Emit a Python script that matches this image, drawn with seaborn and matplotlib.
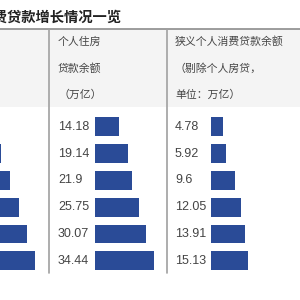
import matplotlib
matplotlib.use("Agg")
import matplotlib.pyplot as plt
import seaborn as sns
import pandas as pd
from matplotlib import transforms
from matplotlib.lines import Line2D
from matplotlib.patches import Rectangle

# ---- data ----
years = ["2015", "2016", "2017", "2018", "2019", "2020"]
consumer_total = [18.96, 25.06, 31.52, 37.79, 43.98, 49.57]   # left column (cropped)
housing = [14.18, 19.14, 21.9, 25.75, 30.07, 34.44]
narrow_consumer = [4.78, 5.92, 9.6, 12.05, 13.91, 15.13]
housing_labels = ["14.18", "19.14", "21.9", "25.75", "30.07", "34.44"]
narrow_labels = ["4.78", "5.92", "9.6", "12.05", "13.91", "15.13"]
title = "个人消费贷款增长情况一览"
mid_header = ["个人住房", "贷款余额", "（万亿）"]
right_header = ["狭义个人消费贷款余额", "（剔除个人房贷，", "单位：万亿）"]

sns.set_style("white")
plt.rcParams["font.family"] = ["Noto Sans CJK SC", "DejaVu Sans"]

W = H = 300
fig = plt.figure(figsize=(3, 3), dpi=100)
fig.patch.set_facecolor("white")

def fx(x):
    return x / W

def fy(y):
    return 1 - y / H

BAR = "#2a4b97"
TXT = "#444444"

# header background and rules
fig.add_artist(Rectangle((0, fy(107)), 1, fy(29) - fy(107), transform=fig.transFigure,
                         facecolor="#f4f4f4", edgecolor="none", zorder=0))
fig.add_artist(Line2D([0, 1], [fy(29), fy(29)], transform=fig.transFigure,
                      color="#8c8c8c", lw=1.2, zorder=2))
for xv in (49, 167):
    fig.add_artist(Line2D([fx(xv), fx(xv)], [fy(29), fy(273)], transform=fig.transFigure,
                          color="#a0a0a0", lw=1.2, zorder=2))

# title (left part cropped off the canvas, as in the reference)
fig.text(fx(122), fy(18), title, ha="right", va="center", fontsize=10.3,
         fontweight="bold", color="#222222")

# header texts
for i, (t1, t2) in enumerate(zip(mid_header, right_header)):
    yy = [42, 69, 95][i]
    fig.text(fx(58), fy(yy), t1, ha="left", va="center", fontsize=7.8, color=TXT)
    fig.text(fx(175), fy(yy), t2, ha="left", va="center", fontsize=7.8, color=TXT)

# bar panels: rows from y=113.3 to 274.2 px
top_px, bot_px = 113.3, 274.2
ab = fy(bot_px)
ah = (bot_px - top_px) / H

def panel(left_px, width_px, px_per_unit, values):
    ax = fig.add_axes([fx(left_px), ab, width_px / W, ah])
    df = pd.DataFrame({"year": years, "value": values})
    sns.barplot(data=df, x="value", y="year", orient="h", color=BAR, saturation=1,
                width=0.7, ax=ax, edgecolor="none")
    ax.set_xlim(0, width_px / px_per_unit)
    ax.set_ylim(5.5, -0.5)
    ax.set_axis_off()
    ax.patch.set_alpha(0)
    return ax

ax_l = panel(-34, 80, 1.39, consumer_total)
ax_m = panel(95, 70, 1.70, housing)
ax_r = panel(211, 80, 2.45, narrow_consumer)

for ax, labels, xpx in ((ax_m, housing_labels, 58), (ax_r, narrow_labels, 175)):
    tr = transforms.blended_transform_factory(fig.transFigure, ax.transData)
    for i, lab in enumerate(labels):
        ax.text(fx(xpx), i, lab, transform=tr, ha="left", va="center",
                fontsize=9, color=TXT, family=["Liberation Sans", "DejaVu Sans"],
                clip_on=False)

fig.savefig("out.png", dpi=100)
